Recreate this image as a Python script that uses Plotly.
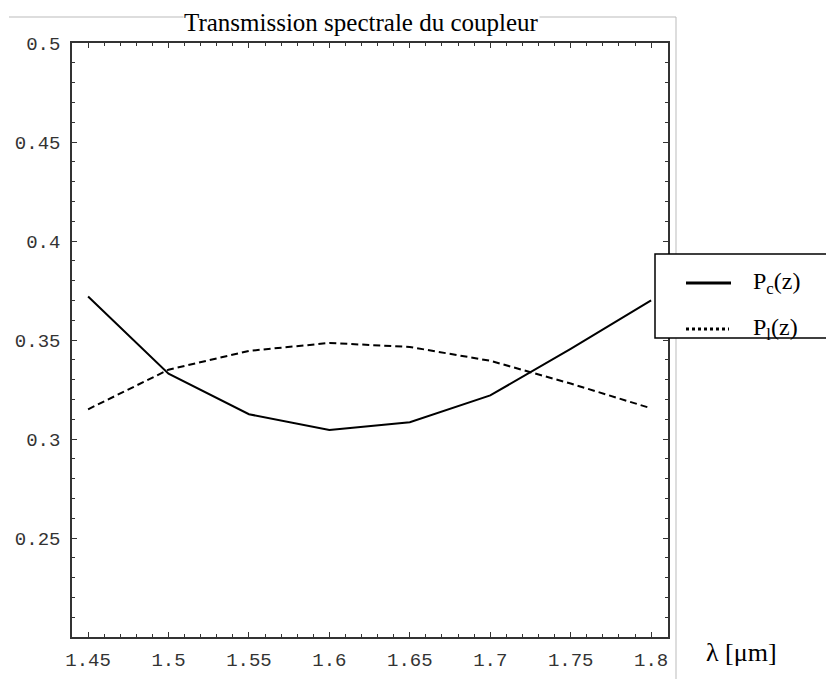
import plotly.graph_objects as go

wavelength = [1.45, 1.50, 1.55, 1.60, 1.65, 1.70, 1.75, 1.80]
p_c = [0.372, 0.333, 0.3125, 0.3045, 0.3085, 0.322, 0.3455, 0.370]
p_l = [0.315, 0.335, 0.3445, 0.3485, 0.3465, 0.3395, 0.328, 0.3155]

x_ticks = [1.45, 1.5, 1.55, 1.6, 1.65, 1.7, 1.75, 1.8]
x_ticktext = ["1.45", "1.5", "1.55", "1.6", "1.65", "1.7", "1.75", "1.8"]
y_ticks = [0.25, 0.3, 0.35, 0.4, 0.45, 0.5]
y_ticktext = ["0.25", "0.3", "0.35", "0.4", "0.45", "0.5"]

# window pixel geometry (page body has an 8px margin)
OFF = 8
WIN_W, WIN_H = 834, 679
L, R, T, B = 72, 668, 43, 637


def px(x):
    return (x - L) / (R - L)


def py(y):
    return (B - y) / (B - T)


fig = go.Figure()
fig.add_trace(go.Scatter(x=wavelength, y=p_c, mode="lines", name="Pc(z)",
                         line=dict(color="black", width=2)))
fig.add_trace(go.Scatter(x=wavelength, y=p_l, mode="lines", name="Pl(z)",
                         line=dict(color="black", width=2, dash="7px,4px")))

axis_common = dict(
    showgrid=False, zeroline=False, showline=True, linecolor="#333", linewidth=1.5,
    mirror="allticks", ticks="inside", ticklen=5, tickwidth=1, tickcolor="#333",
    tickfont=dict(family="Liberation Mono, Courier New, monospace", size=19, color="#333"),
)

fig.update_xaxes(range=[1.44, 1.8105], tickvals=x_ticks, ticktext=x_ticktext,
                 minor=dict(dtick=0.01, ticklen=3, tickcolor="#333", ticks="inside", tick0=1.45),
                 ticklabelstandoff=4, **axis_common)
fig.update_yaxes(range=[0.2, 0.5], tickvals=y_ticks, ticktext=y_ticktext,
                 minor=dict(dtick=0.01, ticklen=3, tickcolor="#333", ticks="inside", tick0=0.2),
                 ticklabelstandoff=6, **axis_common)

shapes = [
    dict(type="line", xref="paper", yref="paper", x0=px(9), x1=px(676), y0=py(17), y1=py(17),
         line=dict(color="#bbbbbb", width=1)),
    dict(type="line", xref="paper", yref="paper", x0=px(676), x1=px(676), y0=py(17), y1=py(679),
         line=dict(color="#bbbbbb", width=1)),
    dict(type="rect", xref="paper", yref="paper", x0=px(655), x1=px(833), y0=py(254), y1=py(338),
         line=dict(color="black", width=1.5), fillcolor="white", layer="above"),
    dict(type="line", xref="paper", yref="paper", x0=px(686), x1=px(731), y0=py(283), y1=py(283),
         line=dict(color="black", width=3), layer="above"),
    dict(type="line", xref="paper", yref="paper", x0=px(686), x1=px(729), y0=py(329), y1=py(329),
         line=dict(color="black", width=3, dash="dot"), layer="above"),
]

serif = "Liberation Serif, Times New Roman, serif"
annotations = [
    dict(text="Transmission spectrale du coupleur", xref="paper", yref="paper",
         x=px(361), y=py(22.5), xanchor="center", yanchor="middle", showarrow=False,
         font=dict(family=serif, size=25, color="black"), bgcolor="white", borderpad=0),
    dict(text="P<sub>c</sub>(z)", xref="paper", yref="paper", x=px(751), y=py(283),
         xanchor="left", yanchor="middle", showarrow=False,
         font=dict(family=serif, size=24, color="black")),
    dict(text="P<sub>l</sub>(z)", xref="paper", yref="paper", x=px(751), y=py(329),
         xanchor="left", yanchor="middle", showarrow=False,
         font=dict(family=serif, size=24, color="black")),
    dict(text="λ [μm]", xref="paper", yref="paper", x=px(704), y=py(652),
         xanchor="left", yanchor="middle", showarrow=False,
         font=dict(family=serif, size=26, color="black")),
]

fig.update_layout(
    width=WIN_W - OFF, height=WIN_H - OFF,
    margin=dict(l=L - OFF, r=WIN_W - R, t=T - OFF, b=WIN_H - B, autoexpand=False),
    paper_bgcolor="white", plot_bgcolor="white",
    showlegend=False, shapes=shapes, annotations=annotations,
)

fig.write_html("out.html")
